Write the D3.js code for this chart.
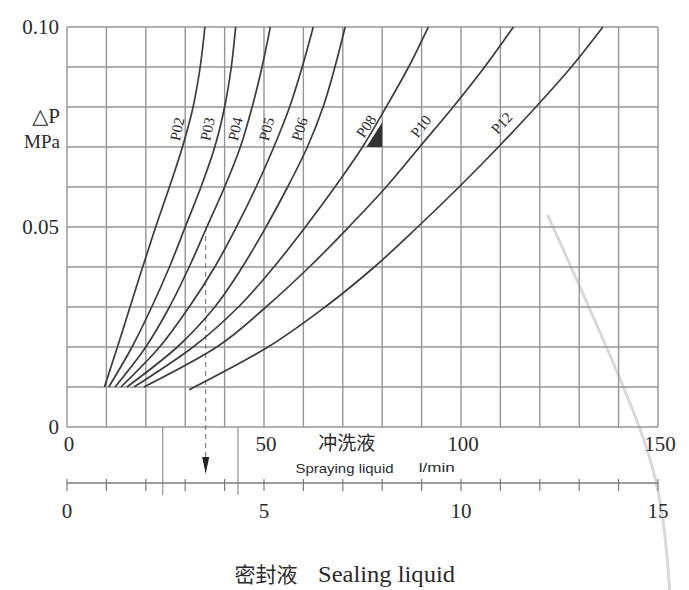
<!DOCTYPE html>
<html>
<head>
<meta charset="utf-8">
<script src="https://cdn.jsdelivr.net/npm/d3@7"></script>
<style>
  body { margin: 0; background: #fff; }
  text { fill: #2a2a2a; }
</style>
</head>
<body>
<svg id="chart" width="689" height="590"></svg>
<script>
// pressure levels (MPa) where the curves were read, one per grid line
const dpLevels  = [0.01, 0.02, 0.03, 0.04, 0.05, 0.06, 0.07, 0.08, 0.09, 0.10];
const p12Levels = [0.0093, 0.02, 0.03, 0.04, 0.05, 0.06, 0.07, 0.08, 0.09, 0.10];

// spraying liquid flow (l/min) at each level
const P02 = [9.5, 12.8, 16, 19.2, 22.5, 26, 29.3, 32, 33.8, 35];
const P03 = [10.6, 16.5, 21.5, 26, 30, 34, 37.5, 40, 41.7, 42.8];
const P04 = [12.2, 20, 26, 31, 35.5, 40, 44, 47, 49.5, 51.6];
const P05 = [13.7, 23.5, 31, 37.5, 43, 48, 52.5, 56.5, 59.7, 62.5];
const P06 = [15.2, 28, 37.5, 44.5, 50.5, 56, 61, 65, 68, 70.6];
const P08 = [17, 32, 43.5, 52.5, 60.5, 68, 75, 81, 86.7, 91.7];
const P10 = [19.5, 38, 50.5, 61.5, 71.5, 81, 89.5, 98, 106, 113.3];
const P12 = [31, 51, 65.5, 78, 89, 99.5, 109.5, 119, 128, 136];

const curveNames = ["P02", "P03", "P04", "P05", "P06", "P08", "P10", "P12"];
const labelFlow  = [27.9, 35.6, 42.7, 50.6, 59, 75.9, 89.8, 110.3];
const labelDp    = [0.0745, 0.0745, 0.0745, 0.0745, 0.0745, 0.0752, 0.0752, 0.076];
const labelAngle = [-78, -78, -77, -75, -73, -56, -52, -47];

const sprayTicks = [0, 50, 100, 150];
const sealTicks  = [0, 5, 10, 15];
const dpTicks    = [0, 0.05, 0.10];

const svg = d3.select("#chart");
const plotLeft = 67, plotRight = 658, plotTop = 27, plotBottom = 427;

const x = d3.scaleLinear().domain([0, 150]).range([plotLeft, plotRight]);
const y = d3.scaleLinear().domain([0, 0.10]).range([plotBottom, plotTop]);
const xs = d3.scaleLinear().domain([0, 15]).range([plotLeft, plotRight]);

const serif = "'Liberation Serif', 'DejaVu Serif', serif";
const cjk = "'Noto Sans CJK SC', sans-serif";
const gridColor = "#959595";

const g = svg.append("g");

// faint scanner streak on the right side
const streak = [[122, 0.053], [143, 0.007], [151, -0.0155], [153, -0.041]];
g.append("path")
  .attr("d", d3.line().x(d => x(d[0])).y(d => y(d[1])).curve(d3.curveBasis)(streak))
  .attr("fill", "none")
  .attr("stroke", "#cfcfcf").attr("stroke-width", 3).attr("opacity", 0.8);

// Grid
g.selectAll(".vgrid")
  .data(d3.range(0, 151, 10))
  .enter().append("line")
  .attr("x1", d => x(d)).attr("x2", d => x(d))
  .attr("y1", y(0.10)).attr("y2", y(0))
  .attr("stroke", gridColor).attr("stroke-width", 1.4);

g.selectAll(".hgrid")
  .data(d3.range(0, 11).map(i => i / 100))
  .enter().append("line")
  .attr("x1", x(0)).attr("x2", x(150))
  .attr("y1", d => y(d)).attr("y2", d => y(d))
  .attr("stroke", gridColor).attr("stroke-width", 1.4);

// construction marks below the chart
const markFlows = [24.3, 43.4];
g.selectAll(".mark")
  .data(markFlows)
  .enter().append("line")
  .attr("x1", d => x(d)).attr("x2", d => x(d))
  .attr("y1", y(0)).attr("y2", y(0) + 68)
  .attr("stroke", "#8a8a8a").attr("stroke-width", 1.1);

// dashed reading line with arrow
const readFlow = 35.2;
g.append("line")
  .attr("x1", x(readFlow)).attr("x2", x(readFlow))
  .attr("y1", y(0.05)).attr("y2", y(0) + 32)
  .attr("stroke", "#777").attr("stroke-width", 1.1)
  .attr("stroke-dasharray", "5,4");
g.append("path")
  .attr("d", d3.line()([[x(readFlow) - 3.5, y(0) + 30], [x(readFlow) + 3.5, y(0) + 30], [x(readFlow), y(0) + 47]]))
  .attr("fill", "#222");

// Curves
const curveData = [P02, P03, P04, P05, P06, P08, P10, P12];
const line = d3.line()
  .x(d => x(d[0]))
  .y(d => y(d[1]))
  .curve(d3.curveMonotoneY);

curveData.forEach(function(flows, i) {
  const levels = curveNames[i] === "P12" ? p12Levels : dpLevels;
  const pts = flows.map((f, j) => [f, levels[j]]);
  g.append("path")
    .datum(pts)
    .attr("d", line)
    .attr("fill", "none")
    .attr("stroke", "#3c3c3c")
    .attr("stroke-width", 1.7);
});

// curve labels
curveNames.forEach(function(name, i) {
  g.append("text")
    .attr("transform", `translate(${x(labelFlow[i])},${y(labelDp[i])}) rotate(${labelAngle[i]})`)
    .attr("text-anchor", "middle")
    .attr("dy", "0.35em")
    .style("font-family", serif)
    .style("font-size", "15px")
    .text(name);
});

// filled triangle beside P08
g.append("path")
  .attr("d", d3.line()([[x(76), y(0.07)], [x(80), y(0.07)], [x(80), y(0.0762)]]) + "Z")
  .attr("fill", "#333");

// Y axis labels
g.selectAll(".ylab")
  .data(dpTicks)
  .enter().append("text")
  .attr("x", plotLeft - 8)
  .attr("y", d => y(d) + 7)
  .attr("text-anchor", "end")
  .style("font-family", serif)
  .style("font-size", "21px")
  .text(d => d === 0 ? "0" : d.toFixed(2));

g.append("text").attr("x", plotLeft - 7).attr("y", 123)
  .attr("text-anchor", "end")
  .style("font-family", serif).style("font-size", "21px")
  .text("△P");
g.append("text").attr("x", plotLeft - 7).attr("y", 148)
  .attr("text-anchor", "end")
  .style("font-family", serif).style("font-size", "19px")
  .text("MPa");

// Spraying liquid axis labels
g.selectAll(".xlab")
  .data(sprayTicks)
  .enter().append("text")
  .attr("x", d => x(d) + 2)
  .attr("y", plotBottom + 24)
  .attr("text-anchor", "middle")
  .style("font-family", serif)
  .style("font-size", "21px")
  .text(d => d);

g.append("text").attr("x", x(71)).attr("y", plotBottom + 23)
  .attr("text-anchor", "middle")
  .style("font-family", cjk).style("font-size", "19px")
  .text("冲洗液");
g.append("text").attr("x", x(58)).attr("y", plotBottom + 46)
  .attr("textLength", 98).attr("lengthAdjust", "spacingAndGlyphs")
  .style("font-family", "'Liberation Sans', Arial, sans-serif").style("font-size", "13px")
  .text("Spraying liquid");
g.append("text").attr("x", x(89.3)).attr("y", plotBottom + 45)
  .attr("textLength", 36).attr("lengthAdjust", "spacingAndGlyphs")
  .style("font-family", "'Liberation Sans', Arial, sans-serif").style("font-size", "12.5px")
  .text("l/min");

// Sealing liquid axis
const sealY = plotBottom + 56;
g.append("line")
  .attr("x1", xs(0)).attr("x2", xs(15))
  .attr("y1", sealY).attr("y2", sealY)
  .attr("stroke", "#7a7a7a").attr("stroke-width", 1.5);
g.selectAll(".stick")
  .data(d3.range(0, 16))
  .enter().append("line")
  .attr("x1", d => xs(d)).attr("x2", d => xs(d))
  .attr("y1", sealY - 4).attr("y2", sealY + 8)
  .attr("stroke", "#7a7a7a").attr("stroke-width", 1.2);

g.selectAll(".slab")
  .data(sealTicks)
  .enter().append("text")
  .attr("x", d => xs(d))
  .attr("y", sealY + 35)
  .attr("text-anchor", "middle")
  .style("font-family", serif)
  .style("font-size", "21px")
  .text(d => d);

// Title
g.append("text").attr("x", 266).attr("y", 582)
  .attr("text-anchor", "middle")
  .style("font-family", cjk).style("font-size", "21px")
  .text("密封液");
g.append("text").attr("x", 318).attr("y", 582)
  .attr("textLength", 137).attr("lengthAdjust", "spacingAndGlyphs")
  .style("font-family", serif).style("font-size", "23px")
  .text("Sealing liquid");
</script>
</body>
</html>
